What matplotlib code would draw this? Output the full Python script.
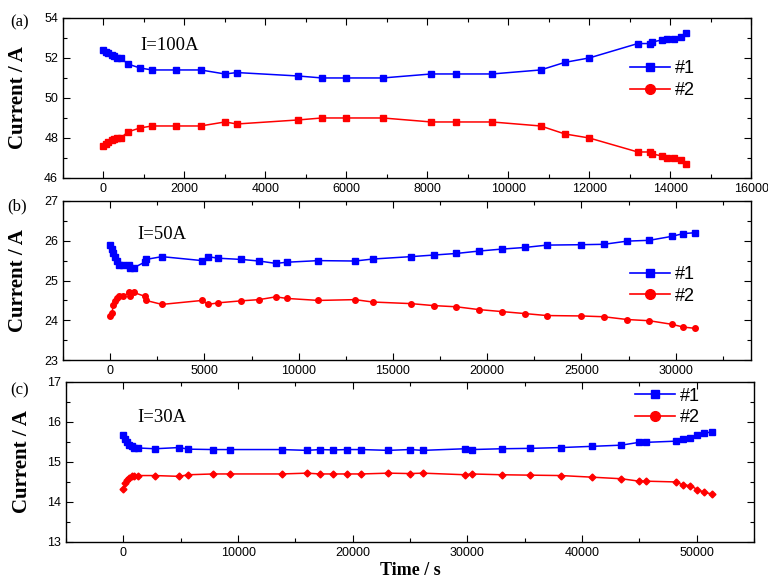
import matplotlib
matplotlib.use('Agg')
import matplotlib.pyplot as plt
from matplotlib.lines import Line2D
from matplotlib.ticker import MultipleLocator

# panel (a), I=100A
t_a = [0, 60, 120, 200, 260, 345, 430, 600, 900, 1200, 1800, 2400, 3000, 3300,
       4800, 5400, 6000, 6900, 8100, 8700, 9600, 10800, 11400, 12000, 13200,
       13500, 13560, 13800, 13920, 14100, 14280, 14400]
a1 = [52.4, 52.32, 52.25, 52.17, 52.1, 52.0, 52.0, 51.7, 51.5, 51.4, 51.4, 51.4,
      51.2, 51.27, 51.1, 51.0, 51.0, 51.0, 51.2, 51.2, 51.2, 51.4, 51.78, 52.0,
      52.72, 52.72, 52.8, 52.9, 52.95, 52.95, 53.05, 53.25]
a2 = [47.6, 47.7, 47.78, 47.9, 47.93, 48.0, 48.0, 48.3, 48.5, 48.6, 48.6, 48.6,
      48.8, 48.7, 48.9, 49.0, 49.0, 49.0, 48.8, 48.8, 48.8, 48.6, 48.2, 48.0,
      47.3, 47.3, 47.2, 47.1, 47.0, 47.0, 46.9, 46.7]

# panel (b), I=50A
t_b = [0, 100, 170, 260, 350, 480, 710, 980, 1070, 1250, 1870, 1900, 2750, 4890,
       5190, 5740, 6960, 7900, 8790, 9380, 11050, 12990, 13930, 15960, 17160,
       18370, 19560, 20780, 21990, 23170, 24980, 26190, 27430, 28600, 29800,
       30410, 31010]
b1 = [25.9, 25.8, 25.68, 25.6, 25.5, 25.4, 25.4, 25.4, 25.32, 25.32, 25.47, 25.53,
      25.6, 25.5, 25.6, 25.56, 25.53, 25.49, 25.43, 25.46, 25.5, 25.49, 25.54,
      25.6, 25.64, 25.68, 25.74, 25.79, 25.83, 25.89, 25.9, 25.91, 25.99, 26.01,
      26.11, 26.18, 26.2]
b2 = [24.1, 24.19, 24.38, 24.49, 24.55, 24.6, 24.6, 24.7, 24.6, 24.7, 24.6, 24.5,
      24.4, 24.5, 24.4, 24.44, 24.49, 24.52, 24.59, 24.55, 24.5, 24.52, 24.46,
      24.42, 24.37, 24.34, 24.27, 24.22, 24.17, 24.12, 24.11, 24.09, 24.02, 23.99,
      23.9, 23.83, 23.8]

# panel (c), I=30A
t_c = [0, 140, 290, 490, 720, 930, 1280, 2730, 4850, 5670, 7820, 9300, 13800,
       15990, 17150, 18310, 19530, 20750, 23100, 24960, 26120, 29780, 30370,
       32980, 35480, 38150, 40830, 43420, 44950, 45540, 48180, 48820, 49430,
       50040, 50650, 51290]
c1 = [15.68, 15.57, 15.49, 15.43, 15.39, 15.36, 15.35, 15.33, 15.36, 15.32, 15.31,
      15.31, 15.31, 15.29, 15.31, 15.3, 15.31, 15.31, 15.29, 15.31, 15.29, 15.33,
      15.31, 15.33, 15.34, 15.36, 15.39, 15.42, 15.49, 15.49, 15.52, 15.58, 15.6,
      15.68, 15.72, 15.75]
c2 = [14.33, 14.48, 14.56, 14.6, 14.64, 14.66, 14.66, 14.66, 14.64, 14.68, 14.7,
      14.7, 14.7, 14.72, 14.7, 14.7, 14.7, 14.7, 14.72, 14.71, 14.72, 14.68, 14.7,
      14.68, 14.67, 14.66, 14.62, 14.58, 14.52, 14.52, 14.5, 14.42, 14.41, 14.31,
      14.24, 14.2]

labels = ['#1', '#2']
BLUE = '#0000ff'
RED = '#ff0000'
SERIF = 'Liberation Serif'
SANS = 'Liberation Sans'

plt.rcParams['font.family'] = SANS

fig = plt.figure(figsize=(7.68, 5.79), dpi=100)
ax_a = fig.add_axes([0.082, 0.6926, 0.896, 0.2764])
ax_b = fig.add_axes([0.082, 0.378, 0.896, 0.275])
ax_c = fig.add_axes([0.086, 0.064, 0.896, 0.2763])


def style(ax, xlim, xmaj, xmin, ylim, ymaj, ymin):
    ax.set_xlim(*xlim)
    ax.set_ylim(*ylim)
    ax.xaxis.set_major_locator(MultipleLocator(xmaj))
    ax.xaxis.set_minor_locator(MultipleLocator(xmin))
    ax.yaxis.set_major_locator(MultipleLocator(ymaj))
    ax.yaxis.set_minor_locator(MultipleLocator(ymin))
    ax.tick_params(which='both', direction='in', top=True, right=True,
                   labelsize=9, width=0.8)
    ax.tick_params(which='major', length=5)
    ax.tick_params(which='minor', length=3)
    for s in ax.spines.values():
        s.set_linewidth(1.0)
    ax.set_ylabel('Current / A', family=SERIF, fontweight='bold', fontsize=15)


def legend(ax, x0, y0):
    h = [Line2D([], [], color=BLUE, marker='s', ms=6, lw=1.2),
         Line2D([], [], color=RED, marker='o', ms=7, lw=1.2)]
    ax.legend(h, labels, loc='upper left', bbox_to_anchor=(x0, y0),
              frameon=False, fontsize=13, handlelength=2.2, handletextpad=0.3,
              labelspacing=0.25, borderpad=0, borderaxespad=0)


kw = dict(lw=1.1)
ax_a.plot(t_a, a1, color=BLUE, marker='s', ms=4, **kw)
ax_a.plot(t_a, a2, color=RED, marker='s', ms=4, **kw)
style(ax_a, (-1000, 16000), 2000, 1000, (46, 54), 2, 1)
legend(ax_a, 0.824, 0.735)
ax_a.text(0.112, 0.83, 'I=100A', transform=ax_a.transAxes, family=SERIF,
          fontsize=13.5, va='center')

ax_b.plot(t_b, b1, color=BLUE, marker='s', ms=4, **kw)
ax_b.plot(t_b, b2, color=RED, marker='o', ms=4, **kw)
style(ax_b, (-2500, 34000), 5000, 2500, (23, 27), 1, 0.5)
legend(ax_b, 0.824, 0.59)
ax_b.text(0.108, 0.786, 'I=50A', transform=ax_b.transAxes, family=SERIF,
          fontsize=13.5, va='center')

ax_c.plot(t_c, c1, color=BLUE, marker='s', ms=4, **kw)
ax_c.plot(t_c, c2, color=RED, marker='D', ms=3.5, **kw)
style(ax_c, (-5000, 55000), 10000, 5000, (13, 17), 1, 0.5)
legend(ax_c, 0.827, 0.965)
ax_c.text(0.103, 0.775, 'I=30A', transform=ax_c.transAxes, family=SERIF,
          fontsize=13.5, va='center')
ax_c.set_xlabel('Time / s', family=SERIF, fontweight='bold', fontsize=13)
ax_c.xaxis.set_label_coords(0.5, -0.125)

for ax in (ax_a, ax_b):
    ax.yaxis.set_label_coords(-0.051, 0.5)
ax_c.yaxis.set_label_coords(-0.049, 0.5)

fig.text(0.013, 0.962, '(a)', family=SERIF, fontsize=12, va='center')
fig.text(0.010, 0.644, '(b)', family=SERIF, fontsize=12, va='center')
fig.text(0.013, 0.325, '(c)', family=SERIF, fontsize=12, va='center')

fig.savefig('out.png', dpi=100)
